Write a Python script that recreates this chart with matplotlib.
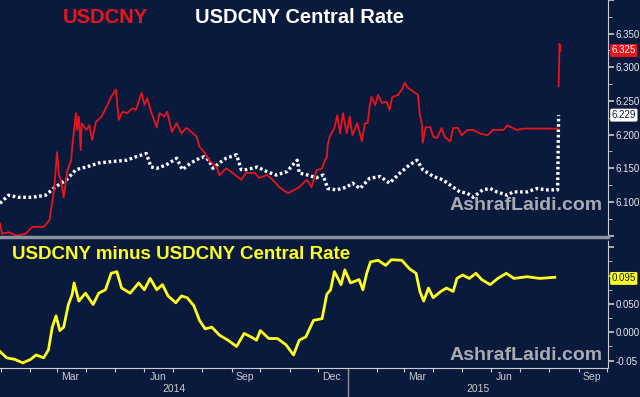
import numpy as np
import pandas as pd
import matplotlib
matplotlib.use("Agg")
import matplotlib.pyplot as plt
import matplotlib.dates as mdates
from matplotlib import transforms
from matplotlib.ticker import MultipleLocator, FixedLocator, FixedFormatter

# USDCNY spot (red) as (date, value)
spot_pts = [
    ("2013-12-31", 6.068), ("2014-01-02", 6.053), ("2014-01-09", 6.055), ("2014-01-18", 6.050),
    ("2014-01-27", 6.053), ("2014-02-03", 6.063), ("2014-02-15", 6.063), ("2014-02-21", 6.073),
    ("2014-02-26", 6.118), ("2014-03-01", 6.174), ("2014-03-03", 6.140), ("2014-03-05", 6.133),
    ("2014-03-08", 6.107), ("2014-03-12", 6.147), ("2014-03-16", 6.162), ("2014-03-17", 6.182),
    ("2014-03-21", 6.232), ("2014-03-22", 6.207), ("2014-03-24", 6.227), ("2014-03-26", 6.177),
    ("2014-03-27", 6.217), ("2014-04-01", 6.207), ("2014-04-04", 6.214), ("2014-04-07", 6.192),
    ("2014-04-11", 6.219), ("2014-04-17", 6.227), ("2014-04-22", 6.241), ("2014-04-27", 6.256),
    ("2014-05-02", 6.267), ("2014-05-05", 6.222), ("2014-05-09", 6.234), ("2014-05-14", 6.232),
    ("2014-05-19", 6.239), ("2014-05-23", 6.237), ("2014-05-29", 6.262), ("2014-06-01", 6.244),
    ("2014-06-04", 6.254), ("2014-06-08", 6.234), ("2014-06-14", 6.211), ("2014-06-17", 6.232),
    ("2014-06-22", 6.227), ("2014-06-25", 6.234), ("2014-06-30", 6.204), ("2014-07-05", 6.217),
    ("2014-07-10", 6.202), ("2014-07-15", 6.210), ("2014-07-18", 6.207), ("2014-07-26", 6.197),
    ("2014-07-29", 6.182), ("2014-08-03", 6.174), ("2014-08-08", 6.162), ("2014-08-16", 6.152),
    ("2014-08-19", 6.140), ("2014-08-26", 6.150), ("2014-09-02", 6.143), ("2014-09-11", 6.133),
    ("2014-09-16", 6.143), ("2014-09-25", 6.143), ("2014-09-30", 6.136), ("2014-10-08", 6.140),
    ("2014-10-14", 6.133), ("2014-10-21", 6.122), ("2014-10-30", 6.113), ("2014-11-06", 6.118),
    ("2014-11-11", 6.122), ("2014-11-19", 6.133), ("2014-11-24", 6.122), ("2014-11-29", 6.147),
    ("2014-12-05", 6.150), ("2014-12-08", 6.162), ("2014-12-10", 6.167), ("2014-12-11", 6.185),
    ("2014-12-13", 6.197), ("2014-12-18", 6.210), ("2014-12-21", 6.229), ("2014-12-24", 6.202),
    ("2014-12-27", 6.232), ("2014-12-31", 6.202), ("2015-01-03", 6.227), ("2015-01-06", 6.199),
    ("2015-01-11", 6.217), ("2015-01-16", 6.190), ("2015-01-19", 6.217), ("2015-01-22", 6.217),
    ("2015-01-24", 6.241), ("2015-01-26", 6.256), ("2015-01-30", 6.244), ("2015-02-02", 6.259),
    ("2015-02-06", 6.247), ("2015-02-11", 6.249), ("2015-02-14", 6.237), ("2015-02-17", 6.256),
    ("2015-02-23", 6.259), ("2015-02-27", 6.267), ("2015-03-02", 6.277), ("2015-03-05", 6.270),
    ("2015-03-11", 6.264), ("2015-03-16", 6.259), ("2015-03-18", 6.229), ("2015-03-20", 6.217),
    ("2015-03-21", 6.188), ("2015-03-24", 6.211), ("2015-03-29", 6.211), ("2015-04-01", 6.197),
    ("2015-04-05", 6.195), ("2015-04-10", 6.210), ("2015-04-13", 6.197), ("2015-04-19", 6.190),
    ("2015-04-22", 6.210), ("2015-04-27", 6.210), ("2015-05-01", 6.199), ("2015-05-07", 6.207),
    ("2015-05-13", 6.207), ("2015-05-20", 6.202), ("2015-05-28", 6.199), ("2015-06-03", 6.207),
    ("2015-06-14", 6.207), ("2015-06-18", 6.214), ("2015-06-28", 6.207), ("2015-07-05", 6.209),
    ("2015-07-19", 6.209), ("2015-08-04", 6.209), ("2015-08-10", 6.209), ("2015-08-11", np.nan),
    ("2015-08-11", 6.272), ("2015-08-12", 6.335), ("2015-08-13", 6.325),
]

# USDCNY central rate (white dotted)
fix_pts = [
    ("2013-12-31", 6.098), ("2014-01-09", 6.110), ("2014-01-19", 6.107), ("2014-02-03", 6.107),
    ("2014-02-17", 6.110), ("2014-02-27", 6.122), ("2014-03-11", 6.133), ("2014-03-21", 6.148),
    ("2014-04-01", 6.152), ("2014-04-14", 6.158), ("2014-04-28", 6.160), ("2014-05-13", 6.162),
    ("2014-05-23", 6.167), ("2014-06-03", 6.172), ("2014-06-08", 6.152), ("2014-06-14", 6.150),
    ("2014-06-24", 6.155), ("2014-07-05", 6.165), ("2014-07-11", 6.148), ("2014-07-20", 6.158),
    ("2014-07-29", 6.165), ("2014-08-03", 6.167), ("2014-08-08", 6.162), ("2014-08-12", 6.150),
    ("2014-08-19", 6.158), ("2014-08-26", 6.165), ("2014-09-06", 6.170), ("2014-09-11", 6.148),
    ("2014-09-16", 6.148), ("2014-09-28", 6.152), ("2014-10-08", 6.145), ("2014-10-18", 6.140),
    ("2014-10-29", 6.145), ("2014-11-06", 6.158), ("2014-11-09", 6.162), ("2014-11-11", 6.143),
    ("2014-11-20", 6.140), ("2014-11-29", 6.136), ("2014-12-06", 6.140), ("2014-12-11", 6.120),
    ("2014-12-20", 6.118), ("2014-12-31", 6.122), ("2015-01-06", 6.128), ("2015-01-14", 6.120),
    ("2015-01-24", 6.135), ("2015-02-04", 6.138), ("2015-02-14", 6.128), ("2015-02-25", 6.143),
    ("2015-03-07", 6.155), ("2015-03-15", 6.162), ("2015-03-21", 6.148), ("2015-04-01", 6.138),
    ("2015-04-11", 6.133), ("2015-04-19", 6.125), ("2015-04-29", 6.115), ("2015-05-07", 6.113),
    ("2015-05-13", 6.107), ("2015-05-23", 6.118), ("2015-05-31", 6.120), ("2015-06-07", 6.115),
    ("2015-06-18", 6.110), ("2015-06-24", 6.115), ("2015-07-09", 6.115), ("2015-07-19", 6.120),
    ("2015-07-30", 6.118), ("2015-08-10", 6.118), ("2015-08-11", 6.229),
]

# USDCNY minus central rate (yellow)
spread_pts = [
    ("2013-12-31", -0.034), ("2014-01-07", -0.045), ("2014-01-16", -0.048), ("2014-01-24", -0.054),
    ("2014-02-01", -0.048), ("2014-02-07", -0.040), ("2014-02-15", -0.045), ("2014-02-20", -0.031),
    ("2014-02-24", 0.009), ("2014-02-28", 0.029), ("2014-03-04", 0.003), ("2014-03-08", 0.009),
    ("2014-03-13", 0.049), ("2014-03-17", 0.067), ("2014-03-19", 0.087), ("2014-03-24", 0.055),
    ("2014-03-31", 0.069), ("2014-04-08", 0.049), ("2014-04-14", 0.069), ("2014-04-21", 0.075),
    ("2014-04-27", 0.104), ("2014-05-03", 0.107), ("2014-05-08", 0.078), ("2014-05-17", 0.069),
    ("2014-05-26", 0.087), ("2014-06-01", 0.075), ("2014-06-07", 0.095), ("2014-06-14", 0.075),
    ("2014-06-20", 0.084), ("2014-06-26", 0.064), ("2014-07-04", 0.052), ("2014-07-10", 0.064),
    ("2014-07-16", 0.061), ("2014-07-23", 0.047), ("2014-07-29", 0.021), ("2014-08-04", 0.006),
    ("2014-08-11", 0.009), ("2014-08-19", -0.005), ("2014-08-28", -0.014), ("2014-09-06", -0.025),
    ("2014-09-14", -0.002), ("2014-09-21", -0.008), ("2014-09-27", -0.014), ("2014-10-01", 0.003),
    ("2014-10-10", -0.011), ("2014-10-19", -0.011), ("2014-10-28", -0.022), ("2014-11-05", -0.040),
    ("2014-11-11", -0.014), ("2014-11-18", -0.008), ("2014-11-26", 0.021), ("2014-12-05", 0.024),
    ("2014-12-10", 0.067), ("2014-12-14", 0.075), ("2014-12-18", 0.107), ("2014-12-25", 0.084),
    ("2014-12-29", 0.110), ("2015-01-04", 0.087), ("2015-01-13", 0.093), ("2015-01-17", 0.075),
    ("2015-01-21", 0.104), ("2015-01-25", 0.124), ("2015-02-02", 0.127), ("2015-02-10", 0.118),
    ("2015-02-16", 0.128), ("2015-02-27", 0.127), ("2015-03-07", 0.112), ("2015-03-14", 0.104),
    ("2015-03-18", 0.072), ("2015-03-22", 0.055), ("2015-03-27", 0.078), ("2015-04-01", 0.061),
    ("2015-04-09", 0.072), ("2015-04-15", 0.078), ("2015-04-22", 0.072), ("2015-04-26", 0.095),
    ("2015-05-02", 0.101), ("2015-05-09", 0.095), ("2015-05-16", 0.104), ("2015-05-22", 0.093),
    ("2015-05-31", 0.084), ("2015-06-08", 0.095), ("2015-06-17", 0.104), ("2015-06-25", 0.095),
    ("2015-07-09", 0.098), ("2015-07-22", 0.095), ("2015-08-07", 0.097),
]

last_spot = 6.325
last_fix = 6.229
last_spread = 0.095

top_ticks = [6.05, 6.10, 6.15, 6.20, 6.25, 6.30, 6.35, 6.40]
top_labels = ["", "6.100", "6.150", "6.200", "6.250", "6.300", "6.350", ""]
bot_ticks = [-0.05, 0.0, 0.05, 0.10, 0.15]
bot_labels = ["-0.05", "0.000", "0.050", "", ""]

spot_dates, spot = zip(*spot_pts)
fix_dates, fix = zip(*fix_pts)
spread_dates, spread = zip(*spread_pts)

bg = "#0a1a3c"
red = "#e8141e"
yellow = "#ffff1e"
grey = "#c9ccd3"
tick_font = "Liberation Sans"

xmin, xmax = pd.Timestamp("2013-12-31"), pd.Timestamp("2015-10-02")

fig = plt.figure(figsize=(6.4, 3.97), dpi=100, facecolor=bg)
ax1 = fig.add_axes([0, 1 - 237 / 397, 608 / 640, 237 / 397])
ax2 = fig.add_axes([0, 1 - 368 / 397, 608 / 640, 127 / 397])

ax1.plot(pd.to_datetime(list(fix_dates)), fix, color="white", linewidth=2.4, dashes=(0.8, 0.8))
ax1.plot(pd.to_datetime(list(spot_dates)), spot, color=red, linewidth=1.3)
ax2.plot(pd.to_datetime(list(spread_dates)), spread, color=yellow, linewidth=2.0)

ax1.set_ylim(6.048, 6.40)
ax2.set_ylim(-0.063, 0.161)

for ax, ticks, labels in [(ax1, top_ticks, top_labels), (ax2, bot_ticks, bot_labels)]:
    ax.set_facecolor(bg)
    ax.set_xlim(xmin, xmax)
    ax.spines["left"].set_visible(False)
    ax.spines["top"].set_visible(False)
    ax.spines["right"].set_color(grey)
    ax.yaxis.tick_right()
    ax.yaxis.set_major_locator(FixedLocator(ticks))
    ax.yaxis.set_major_formatter(FixedFormatter(labels))
    ax.yaxis.set_minor_locator(MultipleLocator(0.025))
    ax.tick_params(axis="y", which="major", colors=grey, labelcolor="#e6e8ec",
                   length=4, width=1.2, pad=1.5, labelsize=7)
    ax.tick_params(axis="y", which="minor", colors=grey, length=3)
    for lab in ax.get_yticklabels():
        lab.set_family(tick_font)

ax1.spines["bottom"].set_color("#8c919c")
ax1.spines["bottom"].set_linewidth(2.5)
ax1.tick_params(axis="x", bottom=False, labelbottom=False)

ax2.spines["bottom"].set_color(grey)
ax2.xaxis.set_major_locator(mdates.MonthLocator())
ax2.xaxis.set_major_formatter(plt.NullFormatter())
ax2.xaxis.set_minor_locator(mdates.MonthLocator(bymonth=[3, 6, 9, 12], bymonthday=15))
ax2.xaxis.set_minor_formatter(mdates.DateFormatter("%b"))
ax2.tick_params(axis="x", which="major", colors=grey, length=3)
ax2.tick_params(axis="x", which="minor", length=0, pad=3, labelsize=7.5, labelcolor="#c8cad0")
for lab in ax2.get_xticklabels(minor=True):
    lab.set_family(tick_font)

# year labels and separators under the axis
blend = transforms.blended_transform_factory(ax2.transData, ax2.transAxes)
for year in [2014, 2015]:
    start = max(pd.Timestamp(f"{year}-01-01"), xmin)
    end = min(pd.Timestamp(f"{year + 1}-01-01"), xmax)
    mid = start + (end - start) / 2
    ax2.text(mid, -0.165, str(year), transform=blend, ha="center", va="center",
             fontsize=7.5, color="#c8cad0", family=tick_font, clip_on=False)
ax2.plot([pd.Timestamp("2015-01-01")] * 2, [0, -0.23], transform=blend,
         color="#8c919c", linewidth=1, clip_on=False)

# titles
ax1.text(0.104, 0.928, "USDCNY", transform=ax1.transAxes, color=red, fontsize=14.5,
         fontweight="bold", family="Liberation Sans", va="center")
ax1.text(0.321, 0.928, "USDCNY Central Rate", transform=ax1.transAxes, color="white",
         fontsize=14.5, fontweight="bold", family="Liberation Sans", va="center")
ax2.text(0.02, 0.895, "USDCNY minus USDCNY Central Rate", transform=ax2.transAxes,
         color=yellow, fontsize=13.5, fontweight="bold", family="Liberation Sans", va="center")

# watermarks
for ax, yy in [(ax1, 0.135), (ax2, 0.10)]:
    ax.text(0.992, yy, "AshrafLaidi.com", transform=ax.transAxes, ha="right", va="center",
            color="#a9abb3", fontsize=14, fontweight="bold", family="Liberation Sans")

# last value boxes on the right axis
b1 = transforms.blended_transform_factory(ax1.transAxes, ax1.transData)
b2 = transforms.blended_transform_factory(ax2.transAxes, ax2.transData)
box_style = "round,pad=0.15"
ax1.text(1.006, last_spot, f"{last_spot:.3f}", transform=b1, va="center", ha="left",
         fontsize=7, color="white", family=tick_font, clip_on=False,
         bbox=dict(boxstyle=box_style, fc=red, ec="none"))
ax1.text(1.006, last_fix, f"{last_fix:.3f}", transform=b1, va="center", ha="left",
         fontsize=7, color=bg, family=tick_font, clip_on=False,
         bbox=dict(boxstyle=box_style, fc="white", ec="none"))
ax2.text(1.006, last_spread, f"{last_spread:.3f}", transform=b2, va="center", ha="left",
         fontsize=7, color=bg, family=tick_font, clip_on=False,
         bbox=dict(boxstyle=box_style, fc=yellow, ec="none"))

fig.savefig("out.png", dpi=100, facecolor=bg)
